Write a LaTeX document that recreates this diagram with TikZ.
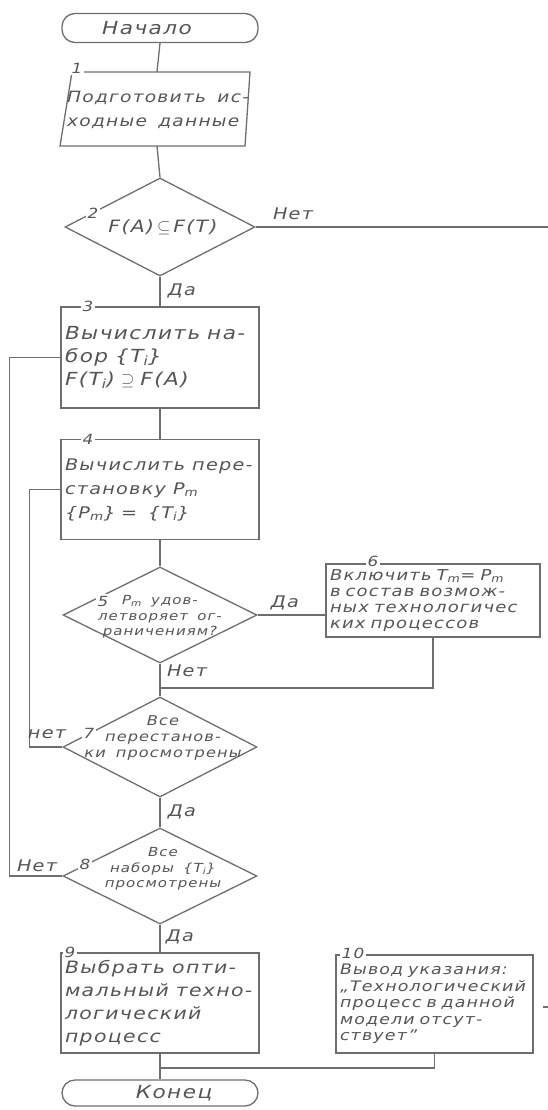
\documentclass[tikz,border=0pt]{standalone}
\usepackage{fontspec}
\setmainfont{DejaVu Sans}[FakeStretch=1.2, LetterSpace=8, WordSpace=1.6]
\usetikzlibrary{shapes.geometric}
\definecolor{lc}{HTML}{6E6E6E}
\definecolor{tc}{HTML}{555555}
\newcommand{\wsp}{\hspace{7pt}}
\begin{document}
\begin{tikzpicture}[x=1pt,y=-1pt,
  every node/.style={text=tc, font=\itshape\fontsize{18}{23}\selectfont},
  ln/.style={draw=lc, line width=1.3pt},
  term/.style={rectangle, draw=lc, line width=1.3pt, rounded corners=13pt, minimum width=196pt, inner sep=0pt},
  box/.style={rectangle, draw=lc, line width=1.3pt, inner sep=4pt, align=left},
  dia/.style={diamond, draw=lc, line width=1.3pt, inner sep=0pt},
  num/.style={fill=white, inner sep=1.5pt, font=\itshape\fontsize{14}{15}\selectfont},
  small/.style={font=\itshape\fontsize{15}{16}\selectfont},
  dtext/.style={align=center, inner sep=0pt, font=\itshape\fontsize{12.5}{15.5}\selectfont},
  lbl/.style={inner sep=1pt, font=\itshape\fontsize{16}{17}\selectfont}
]
\useasboundingbox[fill=white] (0,0) rectangle (548,1110);

% start
\node[term, minimum height=29pt] (start) at (160,28) {};
\node (tstart) at (147,28) {Начало};

% block 1 (parallelogram)
\draw[ln] (72,72) -- (250,72) -- (245,146) -- (60,146) -- cycle;
\node[minimum width=180pt, minimum height=74pt, inner sep=0pt] (b1) at (157,109) {};
\node[align=left, anchor=west, inner sep=0pt, font=\itshape\fontsize{15.5}{24}\selectfont] (t1) at (67,110) {Подготовить ис-\\ходные данные};
\node[num] (n1) at (77,68) {1};

% diamond 2
\node[dia, minimum width=190pt, minimum height=98pt] (d2) at (160,227) {};
\node[inner sep=0pt, font=\itshape\fontsize{17}{20}\selectfont] (t2) at (163,227) {F(A)$\,\subseteq\,$F(T)};
\node[num] (n2) at (93,213) {2};
\coordinate (redge) at (548,227);
\draw[ln] (d2.east) -- (redge);
\node[lbl] (no2) at (293,214) {Нет};

% block 3
\node[box, minimum width=198pt, minimum height=101pt, text width=190pt] (b3) at (160,357.5)
  {Вычислить\wsp на-\\бор\wsp\{T\textsubscript{i}\}\\F(T\textsubscript{i}) $\supseteq$ F(A)};
\node[num] (n3) at (88,306) {3};
\draw[ln] (d2.south) -- (b3.north);
\node[lbl] (yes2) at (182,291) {Да};

% block 4
\node[box, minimum width=198pt, minimum height=100pt, text width=190pt, font=\itshape\fontsize{16}{24}\selectfont] (b4) at (160,489.5)
  {Вычислить\wsp пере-\\становку\wsp P\textsubscript{m}\\\{P\textsubscript{m}\}\ =\ \ \{T\textsubscript{i}\}};
\node[num] (n4) at (88,439) {4};
\draw[ln] (b3.south) -- (b4.north);

% diamond 5
\node[dia, minimum width=194pt, minimum height=96pt] (d5) at (160,615) {};
\node[dtext] (t5) at (160,617) {P\textsubscript{m} удов-\\летворяет ог-\\раничениям?};
\node[num] (n5) at (103,601) {5};
\draw[ln] (b4.south) -- (d5.north);

% block 6
\node[box, small, minimum width=214pt, minimum height=73pt, text width=206pt] (b6) at (433,600.5)
  {Включить T\textsubscript{m}= P\textsubscript{m}\\в состав возмож-\\ных технологичес\\ких процессов};
\node[num] (n6) at (373,561) {6};
\draw[ln] (d5.east) -- (d5.east -| b6.west);
\node[lbl] (yes5) at (285,603) {Да};

% diamond 7
\node[dia, minimum width=194pt, minimum height=100pt] (d7) at (160,747) {};
\node[dtext, font=\itshape\fontsize{13.5}{16}\selectfont] (t7) at (163,738) {Все\\перестанов-\\ки просмотрены};
\node[num] (n7) at (89,733) {7};
\coordinate (j1) at (160,688);
\draw[ln] (d5.south) -- (d7.north);
\draw[ln] (b6.south) |- (j1);
\node[lbl] (no5) at (187,671) {Нет};
\draw[ln] (d7.west) -- ++(-33,0) |- (b4.west);
\node[lbl] (no7) at (47,734) {нет};

% diamond 8
\node[dia, minimum width=194pt, minimum height=96pt] (d8) at (160,876) {};
\node[dtext] (t8) at (163,869) {Все\\наборы \{T\textsubscript{i}\}\\просмотрены};
\node[num] (n8) at (85,864) {8};
\draw[ln] (d7.south) -- (d8.north);
\node[lbl] (yes7) at (182,812) {Да};
\draw[ln] (d8.west) -- ++(-53,0) |- (b3.west);
\node[lbl] (no8) at (37,866) {Нет};

% block 9
\node[box, minimum width=198pt, minimum height=100pt, text width=190pt, font=\itshape\fontsize{17}{23}\selectfont] (b9) at (160,1003)
  {Выбрать\wsp опти-\\мальный\wsp техно-\\логический\\процесс};
\node[num] (n9) at (70,952) {9};
\draw[ln] (d8.south) -- (b9.north);
\node[lbl] (yes8) at (180,937) {Да};

% block 10
\node[box, minimum width=197pt, minimum height=98pt, text width=189pt, font=\itshape\fontsize{14.5}{16.5}\selectfont] (b10) at (434.5,1004)
  {Вывод указания:\\„Технологический\\процесс в данной\\модели отсут-\\ствует”};
\node[num] (n10) at (353,953) {10};
\coordinate (r10) at (548,1007);
\draw[ln, shorten >=9pt] (r10) -- (r10 -| b10.east);

% end
\node[term, minimum height=26pt] (fin) at (160,1093) {};
\node (tfin) at (174,1093) {Конец};
\coordinate (j2) at (160,1068);
\draw[ln] (b9.south) -- (fin.north);
\draw[ln] (b10.south) |- (j2);
\draw[ln] (start.south) -- (b1.north);
\draw[ln] (b1.south) -- (d2.north);
\end{tikzpicture}
\end{document}
